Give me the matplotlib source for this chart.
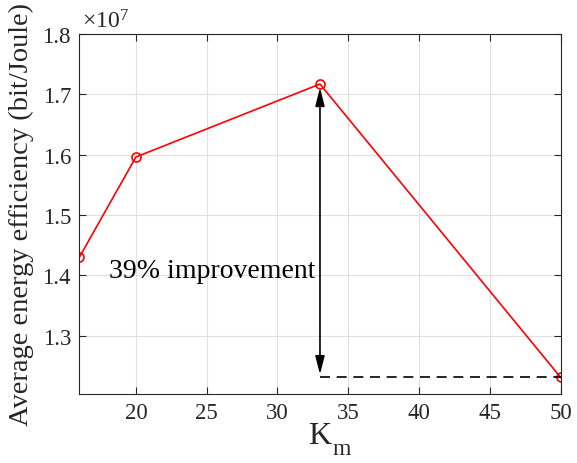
import numpy as np
import matplotlib
matplotlib.use("Agg")
import matplotlib.pyplot as plt
from matplotlib.ticker import FuncFormatter

plt.rcParams['font.family'] = ['Liberation Serif', 'DejaVu Serif']
plt.rcParams['mathtext.fontset'] = 'custom'
plt.rcParams['mathtext.rm'] = 'Liberation Serif'
plt.rcParams['mathtext.it'] = 'Liberation Serif:italic'

# data
k_m = [16, 20, 33, 50]
efficiency = [1.4295e7, 1.596e7, 1.717e7, 1.2305e7]
x_ticks = [20, 25, 30, 35, 40, 45, 50]
y_ticks = [1.3e7, 1.4e7, 1.5e7, 1.6e7, 1.7e7, 1.8e7]

fig = plt.figure(figsize=(5.77, 4.64), dpi=100)
ax = fig.add_axes([0.1374, 0.1487, 0.8343, 0.7759])

ax.plot(k_m, efficiency, color='red', linewidth=1.2, marker='o',
        markersize=6.5, markerfacecolor='none', markeredgewidth=1.2)

# improvement arrow and dashed reference
ax.annotate('', xy=(k_m[2], efficiency[2] - 0.006e7),
            xytext=(k_m[2], efficiency[3] + 0.005e7),
            arrowprops=dict(arrowstyle='<|-|>,head_length=1.1,head_width=0.28',
                            color='black', lw=1.2, shrinkA=0, shrinkB=0))
ax.plot([k_m[2], k_m[3]], [efficiency[3], efficiency[3]], color='black',
        linestyle=(0, (6, 4)), linewidth=1.2)
ax.text(18.1, 1.407e7, '39% improvement', fontsize=20, va='center', ha='left')

ax.set_xlim(16, 50)
ax.set_ylim(1.203e7, 1.8e7)
ax.set_xticks(x_ticks)
ax.set_yticks(y_ticks)
ax.yaxis.set_major_formatter(FuncFormatter(lambda v, p: f'{v / 1e7:.1f}'))
ax.text(0.005, 1.005, r'$\times$10$^{7}$', transform=ax.transAxes,
        fontsize=17, color='0.15', ha='left', va='bottom')

ax.grid(True, color='0.88', linewidth=0.8)
ax.set_axisbelow(True)
ax.tick_params(direction='in', top=True, right=True, labelsize=16.5,
               colors='0.15', length=5, pad=6)
for s in ax.spines.values():
    s.set_color('0.15')
    s.set_linewidth(0.8)

ax.set_xlabel('K', fontsize=23, color='0.15', labelpad=-2)
ax.annotate('m', xy=(1.0, 0.0), xycoords=ax.xaxis.label, xytext=(1, 1),
            textcoords='offset points', fontsize=17, color='0.15',
            ha='left', va='center')
ax.set_ylabel('Average energy efficiency (bit/Joule)', fontsize=20.5,
              color='0.15', labelpad=6)

plt.savefig('out.png', dpi=100)
